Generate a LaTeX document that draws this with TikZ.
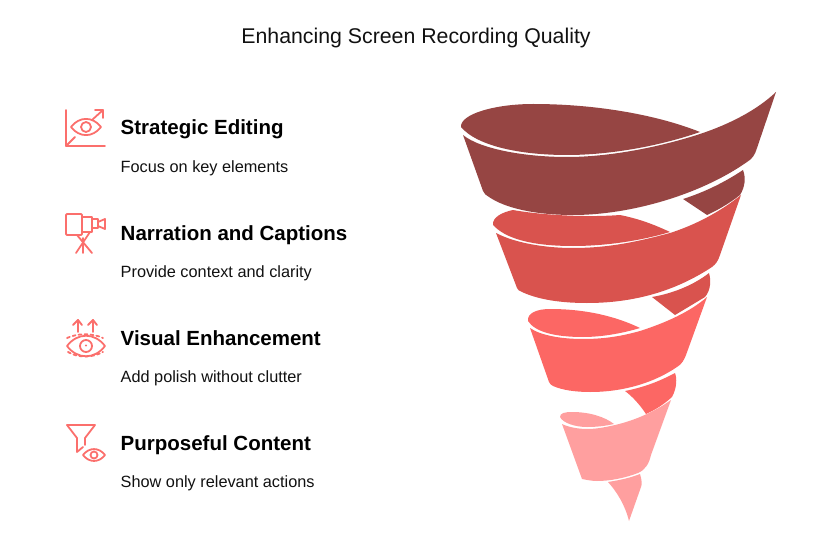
\documentclass[tikz,border=0pt]{standalone}
\usepackage{fontspec}
\setmainfont{Liberation Sans}
\definecolor{bandone}{HTML}{964543}
\definecolor{bandtwo}{HTML}{D9534E}
\definecolor{bandthree}{HTML}{FC6764}
\definecolor{bandfour}{HTML}{FF9F9F}
\definecolor{iconred}{HTML}{FB6F6C}
\definecolor{inktext}{HTML}{111111}
\tikzset{
  titletext/.style={font=\fontsize{21.3}{24}\selectfont, text=inktext, inner sep=0pt},
  headtext/.style={font=\fontsize{20.5}{24}\selectfont\bfseries, text=black, anchor=base west, inner sep=0pt},
  subtext/.style={font=\fontsize{16.3}{18}\selectfont, text=inktext, anchor=base west, inner sep=0pt},
  iconline/.style={draw=iconred, line width=1.8pt, line cap=round, line join=round},
  icondash/.style={iconline, dash pattern=on 3pt off 3pt},
}
\newcommand{\fnitem}[5] {\node at (120.5,#1) (#3) [headtext] {#4}; \node at (120.5,#2) (#3sub) [subtext] {#5};}
\newcommand{\fneye}[4] {\draw [iconline] (#1-#3,#2) .. controls (#1-#3*0.45,#2-#3*0.72) and (#1+#3*0.45,#2-#3*0.72) .. (#1+#3,#2) .. controls (#1+#3*0.45,#2+#3*0.72) and (#1-#3*0.45,#2+#3*0.72) .. (#1-#3,#2) -- cycle; \draw [iconline] (#1,#2) circle [radius=#4];}
\begin{document}
\begin{tikzpicture}[x=1pt,y=-1pt]
\useasboundingbox (0,0) rectangle (832,540);

\node at (416,38) (title) [titletext] {Enhancing Screen Recording Quality};

\fnitem {135}{172.5}{editing}{Strategic Editing}{Focus on key elements};
\fnitem {240}{277.5}{narration}{Narration and Captions}{Provide context and clarity};
\fnitem {345}{382.5}{visual}{Visual Enhancement}{Add polish without clutter};
\fnitem {450}{487.5}{content}{Purposeful Content}{Show only relevant actions};

% band one
\fill [bandone] (461,127) .. controls (460,114) and (495,104) .. (533,104) .. controls (600,104) and (660,116) .. (700,132) .. controls (660,146) and (610,155) .. (567,155) .. controls (520,155) and (477,146) .. (461,127) -- cycle;
\fill [bandone] (463,135) .. controls (480,149) and (525,157) .. (567,157) .. controls (610,157) and (660,147) .. (700,134) .. controls (730,124) and (757,110) .. (776,92) -- (757,148) .. controls (755,155) and (752,159) .. (747,162) .. controls (700,195) and (630,215) .. (573,215) .. controls (535,215) and (505,208) .. (489,197) .. controls (486,195) and (484,194) .. (483,191) -- cycle;
\fill [bandone] (743,170) .. controls (746,178) and (745,187) .. (740,195) .. controls (730,203) and (718,210) .. (707,215) -- (683,199) .. controls (705,192) and (725,182) .. (743,170) -- cycle;

% band two
\fill [bandtwo] (493,225) .. controls (492,217) and (503,212) .. (513,210) .. controls (535,214) and (580,218) .. (620,215) .. controls (640,219) and (655,225) .. (670,232) .. controls (640,241) and (605,246) .. (573,246) .. controls (530,246) and (505,238) .. (493,225) -- cycle;
\fill [bandtwo] (496,233) .. controls (515,243) and (545,248) .. (573,248) .. controls (610,248) and (640,241) .. (670,233) .. controls (695,225) and (720,212) .. (741,195) -- (720,255) .. controls (718,261) and (716,264) .. (712,267) .. controls (680,288) and (640,303) .. (587,303) .. controls (555,303) and (535,298) .. (522,292) .. controls (519,291) and (518,290) .. (517,288) -- cycle;
\fill [bandtwo] (709,273) .. controls (711,280) and (711,290) .. (705,297) -- (675,315) -- (652,297) .. controls (675,293) and (695,284) .. (709,273) -- cycle;

% band three
\fill [bandthree] (528,321) .. controls (527,313) and (537,309) .. (550,309) .. controls (585,309) and (615,316) .. (640,328) .. controls (620,334) and (600,337) .. (583,337) .. controls (555,337) and (535,332) .. (528,321) -- cycle;
\fill [bandthree] (530,328) .. controls (540,335) and (560,339) .. (583,339) .. controls (605,339) and (622,336) .. (640,331) .. controls (665,323) and (690,312) .. (707,297) -- (686,355) .. controls (684,360) and (682,364) .. (677,367) .. controls (655,382) and (625,392) .. (590,392) .. controls (575,392) and (562,390) .. (553,386) .. controls (551,385) and (550,384) .. (549,382) -- cycle;
\fill [bandthree] (675,373) .. controls (677,378) and (677,388) .. (672,397) .. controls (663,405) and (655,410) .. (646,414) .. controls (640,405) and (633,397) .. (625,391) .. controls (645,387) and (660,381) .. (675,373) -- cycle;

% band four
\fill [bandfour] (560,417) .. controls (560,413) and (565,412) .. (572,412) .. controls (590,412) and (605,417) .. (614,424) .. controls (605,426) and (597,427) .. (587,427) .. controls (575,427) and (563,423) .. (560,417) -- cycle;
\fill [bandfour] (562,424) .. controls (568,427) and (578,429) .. (587,429) .. controls (597,429) and (606,427) .. (615,425) .. controls (637,420) and (657,410) .. (671,400) -- (651,455) .. controls (649,464) and (645,470) .. (638,473) .. controls (625,478) and (610,481) .. (597,481) .. controls (592,481) and (587,480) .. (582,479) -- cycle;
\fill [bandfour] (640,474) .. controls (642,480) and (642,485) .. (641,487) -- (629,521) .. controls (625,505) and (617,492) .. (608,482) .. controls (620,480) and (630,478) .. (640,474) -- cycle;

% icon one
\draw [iconline] (66,110) -- (66,146) -- (105,146);
\draw [iconline] (66,146) -- (75,137);
\draw [iconline] (92,120) -- (103,110);
\draw [iconline] (95,110) -- (103,110) -- (103,118);
\fneye {86}{127}{15}{5};

% icon two
\draw [iconline, rounded corners=1pt] (66,214) rectangle (82,235);
\draw [iconline] (82,217) rectangle (92,232);
\draw [iconline] (92,219) rectangle (98,228);
\draw [iconline] (98,222) -- (105,219) -- (105,229) -- (98,226);
\draw [iconline] (77,235) -- (92,253);
\draw [iconline] (90,232) -- (76,253);
\draw [iconline] (83,238) -- (83,253);

% icon three
\draw [iconline] (78,332) -- (78,320);
\draw [iconline] (73,325) -- (78,320) -- (82,325);
\draw [iconline] (93,332) -- (93,320);
\draw [iconline] (88,325) -- (93,320) -- (97,325);
\fneye {86}{346}{19}{6};
\fill [iconred] (86,345.5) circle [radius=1.2];
\draw [icondash] (67,338) .. controls (78,333) and (92,333) .. (103,338);
\draw [icondash] (68,352) .. controls (78,358) and (92,358) .. (103,352);

% icon four
\draw [iconline] (67,425) -- (95,425) -- (85,438) -- (85,445);
\draw [iconline] (67,425) -- (77,438) -- (77,452) -- (83,447);
\fneye {94}{455}{11}{3.5};
\end{tikzpicture}
\end{document}
